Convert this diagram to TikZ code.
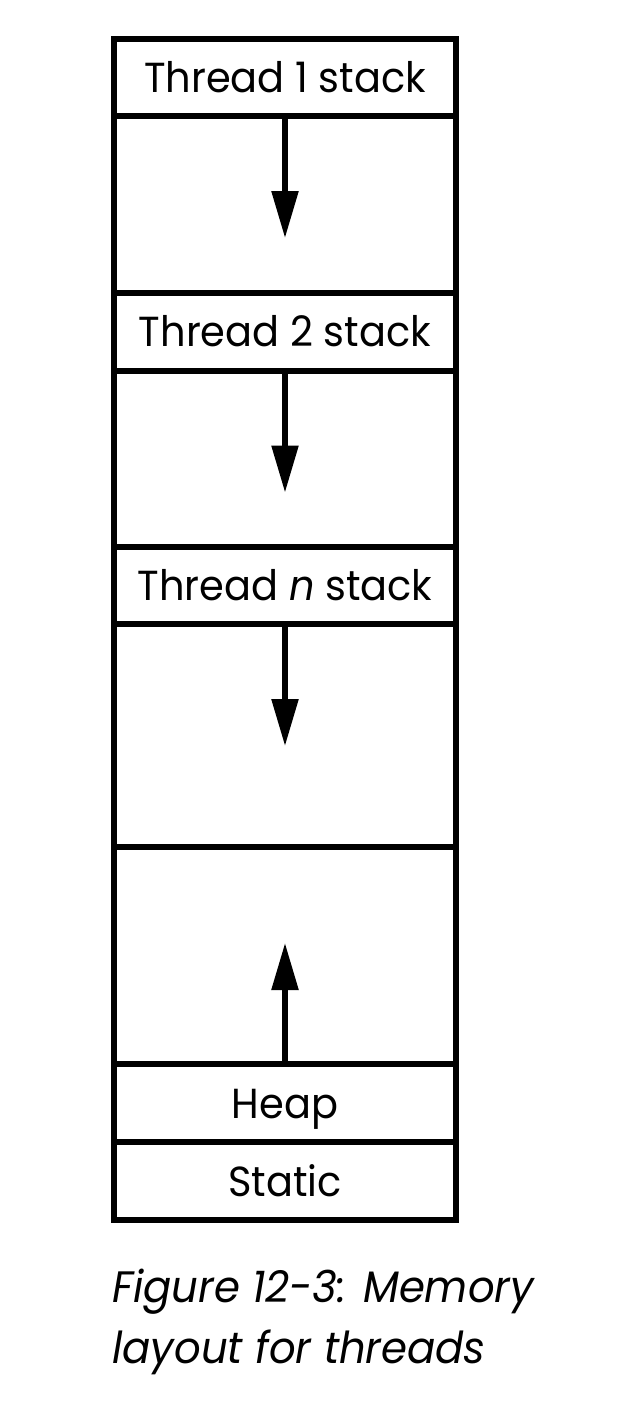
\documentclass[tikz,border=0pt]{standalone}
\usepackage{fontspec}
\setmainfont[FakeStretch=0.95]{Poppins}
\usepackage{tikz}
\usetikzlibrary{arrows.meta,positioning}
\tikzstyle{region}=[draw,rectangle,minimum width=342pt,outer sep=0pt,inner sep=0pt,line width=6pt]
\tikzstyle{namecell}=[region,minimum height=77.5pt,font=\fontsize{42}{50}\selectfont,text height=30pt,text depth=-12pt]
\tikzstyle{growth}=[line width=5.5pt,-{Triangle[length=47pt,width=26pt]}]

\begin{document}
\begin{tikzpicture}[x=1pt,y=1pt]
\useasboundingbox (0,0) rectangle (638,-1408);
% stacks, top down
\node [namecell] (t1) at (285,-77.25) {Thread 1 stack};
\node [region,minimum height=177pt,below=0pt of t1] (s1) {};
\node [namecell,below=0pt of s1] (t2) {Thread 2 stack};
\node [region,minimum height=176pt,below=0pt of t2] (s2) {};
\node [namecell,below=0pt of s2] (tn) {Thread \textit{n} stack};
\node [region,minimum height=223pt,below=0pt of tn] (sn) {};
% free space, heap, static
\node [region,minimum height=217pt,below=0pt of sn] (free) {};
\node [namecell,minimum height=78pt,below=0pt of free] (heap) {Heap};
\node [namecell,minimum height=78pt,below=0pt of heap] (static) {Static};
% growth directions
\coordinate [below=122pt of t1.south] (tip1);
\coordinate [below=122pt of t2.south] (tip2);
\coordinate [below=122pt of tn.south] (tipn);
\coordinate [above=121pt of heap.north] (tiph);
\draw [growth] (t1.south) -- (tip1);
\draw [growth] (t2.south) -- (tip2);
\draw [growth] (tn.south) -- (tipn);
\draw [growth] (heap.north) -- (tiph);
% caption
\node [anchor=base west,align=left,inner sep=0pt,font=\fontsize{44}{61}\selectfont\itshape] (caption) at (112,-1363) {Figure 12-3: Memory\\layout for threads};
\end{tikzpicture}
\end{document}
